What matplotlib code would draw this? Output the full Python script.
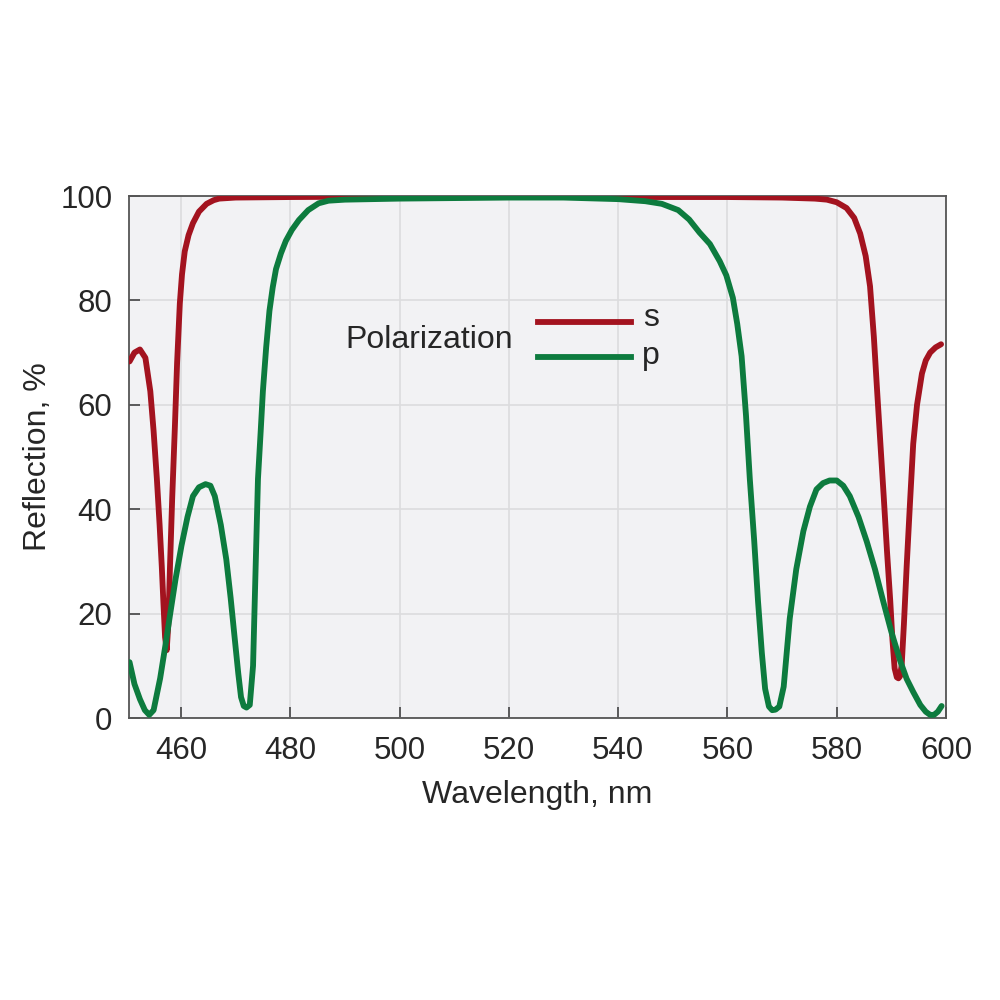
import numpy as np
import matplotlib
matplotlib.use("Agg")
import matplotlib.pyplot as plt

# s-polarization (wavelength nm, reflection %)
s_wl = [450.6, 451.5, 452.5, 453.5, 454.4, 455.0, 455.6, 456.1, 456.5, 456.8, 457.1, 457.4,
        457.7, 458.0, 458.4, 458.9, 459.3, 459.8, 460.2, 460.7, 461.4, 462.2, 463.3,
        464.7, 466.0, 467.0, 470.0, 480.0, 500.0, 520.0, 540.0, 560.0, 570.0, 576.0,
        578.2, 580.0, 581.8, 583.2, 584.3, 585.3, 586.1, 586.8, 587.4, 588.0, 588.6,
        589.2, 589.8, 590.2, 590.6, 591.0, 591.3, 591.6, 591.9, 592.3, 592.8, 593.4,
        594.0, 594.7, 595.6, 596.3, 597.1, 598.1, 599.1]
s_r = [68.3, 70.0, 70.6, 69.0, 62.6, 55.0, 45.8, 37.0, 29.0, 22.0, 15.5, 13.0,
       18.0, 29.0, 42.0, 55.9, 68.0, 79.4, 85.0, 89.4, 92.5, 94.8, 97.0,
       98.5, 99.2, 99.5, 99.7, 99.8, 99.9, 99.9, 99.8, 99.8, 99.7, 99.5,
       99.3, 98.8, 97.7, 95.8, 92.8, 88.5, 82.7, 73.0, 62.6, 52.5, 42.5,
       32.0, 22.4, 15.0, 9.5, 7.8, 7.6, 8.0, 10.3, 18.0, 29.0, 41.0,
       52.5, 60.0, 66.0, 68.5, 70.0, 71.0, 71.6]

# p-polarization
p_wl = [450.6, 451.5, 452.5, 453.4, 454.2, 455.0, 456.2, 457.1, 458.0, 459.0, 460.1,
        461.2, 462.2, 463.3, 464.5, 465.4, 466.2, 467.3, 468.3, 469.1, 469.8, 470.5,
        471.0, 471.5, 472.0, 472.6, 473.2, 473.7, 474.1, 474.6, 475.0, 475.6, 476.2,
        476.8, 477.4, 478.3, 479.2, 480.3, 481.6, 483.3, 485.2, 487.0, 490.0, 500.0,
        510.0, 520.0, 530.0, 540.0, 545.0, 548.0, 551.0, 553.0, 554.9, 556.8, 558.6,
        559.8, 561.0, 561.8, 562.6, 563.4, 564.1, 564.9, 565.6, 566.3, 566.9, 567.6,
        568.2, 568.8, 569.5, 570.3, 571.4, 572.6, 573.9, 575.1, 576.3, 577.5, 578.7,
        580.0, 581.2, 582.4, 584.0, 585.5, 587.0, 588.5, 590.0, 591.6, 592.8, 594.0,
        595.3, 596.3, 597.1, 597.8, 598.5, 599.2]
p_r = [10.7, 6.5, 3.6, 1.5, 0.6, 1.5, 7.6, 13.5, 19.7, 26.5, 33.0,
       38.5, 42.5, 44.2, 44.8, 44.5, 42.5, 37.0, 30.4, 23.0, 15.7, 8.5,
       4.0, 2.3, 2.0, 2.5, 10.0, 30.0, 45.8, 55.0, 62.6, 71.0, 78.0,
       82.5, 86.0, 89.0, 91.4, 93.5, 95.4, 97.3, 98.6, 99.1, 99.3, 99.5,
       99.6, 99.7, 99.7, 99.4, 99.0, 98.5, 97.3, 95.5, 93.0, 90.8, 87.5,
       84.8, 80.5, 75.5, 69.3, 58.0, 45.8, 34.0, 22.4, 12.5, 5.6, 2.2,
       1.5, 1.6, 2.2, 6.0, 19.0, 28.5, 35.8, 40.5, 43.8, 45.0, 45.5,
       45.5, 44.5, 42.5, 38.5, 33.8, 28.5, 22.4, 16.5, 11.0, 7.5, 5.0,
       2.5, 1.2, 0.6, 0.6, 1.2, 2.3]

xticks = [460, 480, 500, 520, 540, 560, 580, 600]
yticks = [0, 20, 40, 60, 80, 100]

RED = "#A3131F"
GREEN = "#0D7B3E"
TXT = "#262626"

plt.rcParams['font.family'] = ['Liberation Sans', 'DejaVu Sans']

fig = plt.figure(figsize=(10, 10), dpi=100)
fig.patch.set_facecolor("white")
ax = fig.add_axes([0.129, 0.282, 0.817, 0.522])
ax.set_facecolor("#F2F2F4")

ax.plot(s_wl, s_r, color=RED, lw=4.2, solid_joinstyle="round", solid_capstyle="round", zorder=3)
ax.plot(p_wl, p_r, color=GREEN, lw=4.2, solid_joinstyle="round", solid_capstyle="round", zorder=3)

ax.set_xlim(450.5, 600)
ax.set_ylim(0, 100)
ax.set_xticks(xticks)
ax.set_yticks(yticks)
ax.grid(True, color="#DCDCDE", lw=1.2, zorder=0)
ax.set_axisbelow(True)
ax.tick_params(direction="in", length=8, width=1.2, color="#444444",
               labelsize=22.5, labelcolor=TXT)
ax.tick_params(axis="x", pad=13)
ax.tick_params(axis="y", pad=12)
for sp in ax.spines.values():
    sp.set_color("#555555")
    sp.set_linewidth(1.3)

ax.set_xlabel("Wavelength, nm", fontsize=23, color=TXT, labelpad=10)
ax.set_ylabel("Reflection, %", fontsize=23, color=TXT, labelpad=5)

# legend (manual, in axes coords)
ax.text(0.265, 0.724, "Polarization", transform=ax.transAxes, fontsize=23,
        color=TXT, ha="left", va="center")
ax.plot([0.500, 0.614], [0.758, 0.758], transform=ax.transAxes, color=RED, lw=4.2)
ax.plot([0.500, 0.614], [0.691, 0.691], transform=ax.transAxes, color=GREEN, lw=4.2)
ax.text(0.639, 0.766, "s", transform=ax.transAxes, fontsize=23, color=TXT,
        ha="center", va="center")
ax.text(0.639, 0.694, "p", transform=ax.transAxes, fontsize=23, color=TXT,
        ha="center", va="center")

fig.savefig("out.png", dpi=100)
